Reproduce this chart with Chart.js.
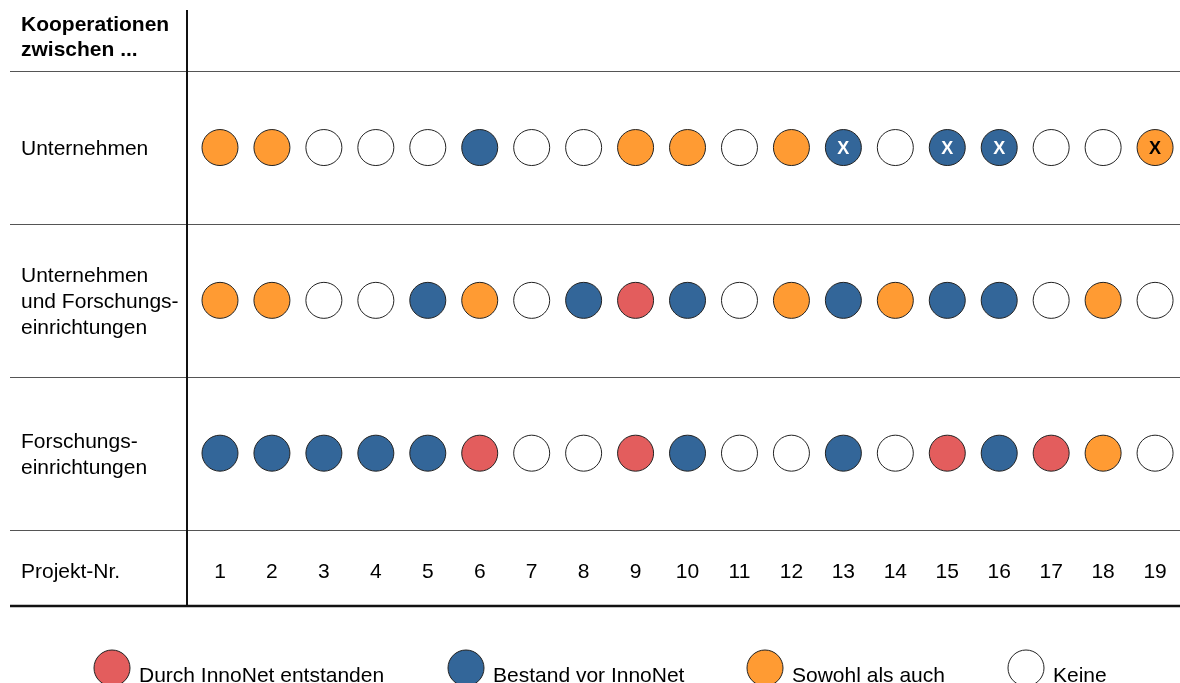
<!DOCTYPE html>
<html lang="de">
<head>
<meta charset="utf-8">
<title>Kooperationen zwischen ...</title>
<script src="https://cdn.jsdelivr.net/npm/chart.js@4.4.1/dist/chart.umd.min.js"></script>
<style>
    html, body { margin: 0; padding: 0; background: #fff; }
    canvas { display: block; }
</style>
</head>
<body>
<canvas id="kooperationChart" width="1180" height="683"></canvas>
<script>
// --- Daten ---
const projekte = [1, 2, 3, 4, 5, 6, 7, 8, 9, 10, 11, 12, 13, 14, 15, 16, 17, 18, 19];
const zeilen = [
    ['Unternehmen'],
    ['Unternehmen', 'und Forschungs-', 'einrichtungen'],
    ['Forschungs-', 'einrichtungen']
];
// d = Durch InnoNet entstanden, b = Bestand vor InnoNet, s = Sowohl als auch, k = Keine
const unternehmen   = ['s','s','k','k','k','b','k','k','s','s','k','s','b','k','b','b','k','k','s'];
const beide         = ['s','s','k','k','b','s','k','b','d','b','k','s','b','s','b','b','k','s','k'];
const forschung     = ['b','b','b','b','b','d','k','k','d','b','k','k','b','k','d','b','d','s','k'];
const markiertUnternehmen = [13, 15, 16, 19];   // mit "X" gekennzeichnet
const legendeCodes = ['d', 'b', 's', 'k'];
const legendeTexte = ['Durch InnoNet entstanden', 'Bestand vor InnoNet', 'Sowohl als auch', 'Keine'];

// --- Styles ---
const farben = { d: '#E35D5D', b: '#336699', s: '#FF9B33', k: '#FFFFFF' };
const FONT = '"Liberation Sans", Arial, Helvetica, sans-serif';
const rowY = [3, 2, 1];        // y-Werte der Zeilen
const nummerY = 0.23;          // y-Wert der Projektnummern
const linienY = [3.5, 2.5, 1.5, 0.5];

const reihen = [unternehmen, beide, forschung];
const datasets = reihen.map((reihe, i) => ({
    label: zeilen[i].join(' '),
    data: projekte.map(p => ({ x: p, y: rowY[i] })),
    backgroundColor: reihe.map(c => farben[c]),
    borderColor: '#222',
    borderWidth: 1,
    pointRadius: 18,
    pointHoverRadius: 18
}));

// Tabellenrahmen, Beschriftungen, Nummern
const tabellePlugin = {
    id: 'tabelle',
    beforeDatasetsDraw(chart) {
        const { ctx, chartArea, scales: { x, y } } = chart;
        ctx.save();

        // graue Trennlinien
        ctx.strokeStyle = '#555';
        ctx.lineWidth = 1.2;
        linienY.forEach(v => {
            const py = Math.round(y.getPixelForValue(v)) + 0.5;
            ctx.beginPath();
            ctx.moveTo(10, py);
            ctx.lineTo(1180, py);
            ctx.stroke();
        });

        // untere schwarze Linie
        ctx.strokeStyle = '#111';
        ctx.lineWidth = 2.5;
        const pb = y.getPixelForValue(0);
        ctx.beginPath();
        ctx.moveTo(10, pb);
        ctx.lineTo(1180, pb);
        ctx.stroke();

        // senkrechte Linie
        ctx.lineWidth = 2;
        ctx.beginPath();
        ctx.moveTo(chartArea.left, chartArea.top);
        ctx.lineTo(chartArea.left, pb);
        ctx.stroke();

        // Kopf
        ctx.fillStyle = '#000';
        ctx.textBaseline = 'alphabetic';
        ctx.textAlign = 'left';
        ctx.font = 'bold 21px ' + FONT;
        ctx.fillText('Kooperationen', 21, 31);
        ctx.fillText('zwischen ...', 21, 56);

        // Zeilenbeschriftungen
        ctx.font = '21px ' + FONT;
        zeilen.forEach((zeile, i) => {
            const mitte = y.getPixelForValue(rowY[i]);
            const start = mitte - (zeile.length - 1) * 26 / 2 + 7.5;
            zeile.forEach((t, j) => ctx.fillText(t, 21, start + j * 26));
        });
        const pn = y.getPixelForValue(nummerY);
        ctx.fillText('Projekt-Nr.', 21, pn + 7.5);

        // Projektnummern
        ctx.textAlign = 'center';
        projekte.forEach(p => ctx.fillText(String(p), x.getPixelForValue(p), pn + 7.5));
        ctx.restore();
    },
    afterDatasetsDraw(chart) {
        const { ctx } = chart;
        ctx.save();

        // X-Markierungen
        const meta = chart.getDatasetMeta(0);
        ctx.font = 'bold 18px ' + FONT;
        ctx.textAlign = 'center';
        ctx.textBaseline = 'alphabetic';
        markiertUnternehmen.forEach(p => {
            const idx = projekte.indexOf(p);
            const pt = meta.data[idx];
            ctx.fillStyle = unternehmen[idx] === 'b' ? '#fff' : '#000';
            ctx.fillText('X', pt.x, pt.y + 6.5);
        });

        // Legende
        const legendeX = [112, 466, 765, 1026];
        ctx.font = '21px ' + FONT;
        ctx.textAlign = 'left';
        legendeCodes.forEach((c, i) => {
            ctx.beginPath();
            ctx.arc(legendeX[i], 668, 18, 0, Math.PI * 2);
            ctx.fillStyle = farben[c];
            ctx.fill();
            ctx.strokeStyle = '#222';
            ctx.lineWidth = 1;
            ctx.stroke();
            ctx.fillStyle = '#000';
            ctx.fillText(legendeTexte[i], legendeX[i] + 27, 682);
        });
        ctx.restore();
    }
};

new Chart(document.getElementById('kooperationChart').getContext('2d'), {
    type: 'scatter',
    data: { datasets: datasets },
    options: {
        responsive: false,
        animation: false,
        events: [],
        layout: { autoPadding: false, padding: { left: 187, top: 10, right: 0, bottom: 77 } },
        scales: {
            x: { type: 'linear', min: 0.365, max: 19.48, display: false },
            y: { type: 'linear', min: 0, max: 3.9, display: false }
        },
        plugins: {
            legend: { display: false },
            tooltip: { enabled: false }
        }
    },
    plugins: [tabellePlugin]
});
</script>
</body>
</html>
